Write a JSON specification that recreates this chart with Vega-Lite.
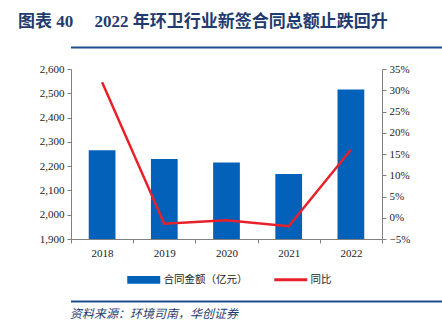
{
  "$schema": "https://vega.github.io/schema/vega-lite/v6.json",
  "background": "white",
  "padding": {"left": 18, "top": 12, "right": 12, "bottom": 4},
  "title": {
    "text": "图表 40\u3000 2022 年环卫行业新签合同总额止跌回升",
    "anchor": "start",
    "frame": "bounds",
    "font": "Times New Roman, Liberation Serif, Noto Sans CJK SC, serif",
    "fontSize": 17,
    "fontWeight": "bold",
    "color": "#1F3B6F",
    "offset": 16
  },
  "spacing": 14,
  "resolve": {"scale": {"color": "independent"}, "legend": {"color": "independent"}},
  "datasets": {
    "main": [
      {"year": "2018", "amount": 2265, "yoy": 0.319, "s": "合同金额（亿元）", "t": "同比"},
      {"year": "2019", "amount": 2229, "yoy": -0.014, "s": "合同金额（亿元）", "t": "同比"},
      {"year": "2020", "amount": 2215, "yoy": -0.006, "s": "合同金额（亿元）", "t": "同比"},
      {"year": "2021", "amount": 2168, "yoy": -0.020, "s": "合同金额（亿元）", "t": "同比"},
      {"year": "2022", "amount": 2516, "yoy": 0.160, "s": "合同金额（亿元）", "t": "同比"}
    ],
    "frame": [{"a": 0, "b": 1}]
  },
  "vconcat": [
    {
      "width": 412,
      "height": 1,
      "data": {"name": "frame"},
      "mark": {"type": "rule", "color": "#1F4E8C", "strokeWidth": 2},
      "encoding": {
        "x": {"field": "a", "type": "quantitative", "scale": {"domain": [0, 1]}, "axis": null},
        "x2": {"field": "b"}
      }
    },
    {
      "width": 311,
      "height": 170,
      "data": {"name": "main"},
      "layer": [
        {
          "mark": {"type": "bar", "width": {"band": 0.43}},
          "encoding": {
            "x": {
              "field": "year", "type": "nominal", "sort": null,
              "scale": {"paddingInner": 0, "paddingOuter": 0},
              "axis": {
                "title": null, "labelAngle": 0, "tickBand": "extent",
                "domainColor": "#808080", "tickColor": "#808080", "tickSize": 4,
                "labelFont": "Times New Roman, Liberation Serif, serif", "labelFontSize": 11, "labelColor": "#222", "labelPadding": 4
              }
            },
            "y": {
              "field": "amount", "type": "quantitative",
              "scale": {"domain": [1900, 2600], "zero": false, "nice": false},
              "axis": {
                "title": null, "values": [1900, 2000, 2100, 2200, 2300, 2400, 2500, 2600], "format": ",.0f",
                "grid": false, "domainColor": "#808080", "tickColor": "#808080", "tickSize": 4,
                "labelFont": "Times New Roman, Liberation Serif, serif", "labelFontSize": 11, "labelColor": "#222", "labelPadding": 3,
                "minExtent": 53
              }
            },
            "y2": {"datum": 1900},
            "color": {
              "field": "s", "type": "nominal",
              "scale": {"domain": ["合同金额（亿元）", "同比"], "range": ["#0461B9", "#E8202A"]},
              "legend": {
                "title": null, "orient": "none", "legendX": 56, "legendY": 205,
                "direction": "horizontal", "columnPadding": 20,
                "labelFont": "Noto Sans CJK SC", "labelFontSize": 10.5, "labelColor": "#222", "labelOffset": 26,
                "encode": {
                  "symbols": {
                    "update": {
                      "shape": {"signal": "datum.value === '同比' ? 'M-0.303,0H1.697' : 'M-0.303,-0.24H1.697V0.24H-0.303Z'"},
                      "size": {"value": 1089},
                      "strokeWidth": {"signal": "datum.value === '同比' ? 3 : 0"},
                      "fill": {"signal": "datum.value === '同比' ? 'transparent' : '#0461B9'"},
                      "stroke": {"signal": "datum.value === '同比' ? '#E8202A' : '#0461B9'"},
                      "opacity": {"value": 1},
                      "fillOpacity": {"value": 1},
                      "strokeOpacity": {"value": 1}
                    }
                  }
                }
              }
            }
          }
        },
        {
          "mark": {"type": "line", "strokeWidth": 2.5},
          "encoding": {
            "x": {"field": "year", "type": "nominal", "sort": null},
            "y": {
              "field": "yoy", "type": "quantitative",
              "scale": {"domain": [-0.05, 0.35], "zero": false, "nice": false},
              "axis": {
                "title": null, "orient": "right", "values": [-0.05, 0, 0.05, 0.1, 0.15, 0.2, 0.25, 0.3, 0.35], "format": ".0%",
                "grid": false, "domainColor": "#808080", "tickColor": "#808080", "tickSize": 4,
                "labelFont": "Times New Roman, Liberation Serif, serif", "labelFontSize": 11, "labelColor": "#222", "labelPadding": 3
              }
            },
            "color": {"field": "t", "type": "nominal"}
          }
        }
      ],
      "resolve": {"scale": {"y": "independent"}}
    },
    {
      "width": 412,
      "height": 1,
      "data": {"name": "frame"},
      "title": {
        "text": "资料来源：环境司南，华创证券",
        "orient": "bottom",
        "anchor": "start",
        "font": "Noto Sans CJK SC",
        "fontSize": 12,
        "fontStyle": "italic",
        "fontWeight": "normal",
        "color": "#1F3B6F",
        "offset": 6
      },
      "mark": {"type": "rule", "color": "#1F4E8C", "strokeWidth": 2},
      "encoding": {
        "x": {"field": "a", "type": "quantitative", "scale": {"domain": [0, 1]}, "axis": null},
        "x2": {"field": "b"}
      }
    }
  ],
  "config": {
    "view": {"stroke": null}
  }
}
